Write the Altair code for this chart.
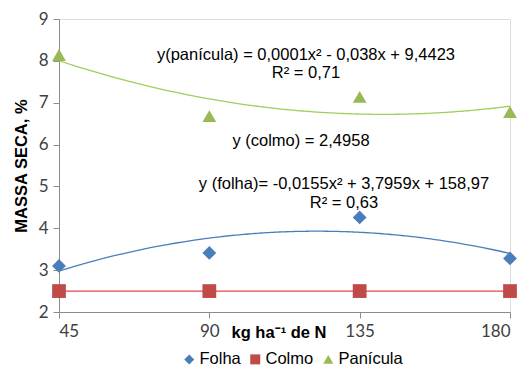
import altair as alt
import pandas as pd

doses = [45, 90, 135, 180]
folha = [3.10, 3.41, 4.26, 3.28]
colmo = [2.50, 2.50, 2.50, 2.50]
panicula = [8.14, 6.68, 7.14, 6.78]
series = ["Folha", "Colmo", "Panícula"]
colors = ["#4A7EBB", "#BE4B48", "#98B954"]
line_colors = ["#4A7EBB", "#E0484A", "#9CD05A"]
shapes = ["diamond", "square", "triangle-up"]
y_ticks = [2, 3, 4, 5, 6, 7, 8, 9]

rows = []
for name, vals in zip(series, [folha, colmo, panicula]):
    for d, v in zip(doses, vals):
        rows.append({"dose": d, "massa": v, "serie": name})
df = pd.DataFrame(rows)

ann_text = [
    "y(panícula) = 0,0001x² - 0,038x + 9,4423",
    "R² = 0,71",
    "y (colmo) = 2,4958",
    "y (folha)= -0,0155x² + 3,7959x + 158,97",
    "R² = 0,63",
]
ann_x = [247, 247, 242, 285, 285]
ann_y = [36, 54, 122, 165, 184]
ann = pd.DataFrame({"t": ann_text, "x": ann_x, "y": ann_y})

xscale = alt.Scale(domain=[45, 180], nice=False, zero=False)
yscale = alt.Scale(domain=[2, 9], nice=False, zero=False)

base = alt.Chart(df)

trend = base.transform_regression(
    "dose", "massa", groupby=["serie"], method="poly", order=2, extent=[45, 180]
).mark_line(strokeWidth=1.3, interpolate="monotone").encode(
    x=alt.X("dose:Q", scale=xscale),
    y=alt.Y("massa:Q", scale=yscale),
    color=alt.Color("serie:N", scale=alt.Scale(domain=series, range=line_colors), legend=None),
    detail="serie:N",
)

points = base.mark_point(filled=True, opacity=1, size=190).encode(
    x=alt.X(
        "dose:Q",
        scale=xscale,
        axis=alt.Axis(
            values=doses, title=None, grid=False, domainColor="#8C8C8C", tickColor="#8C8C8C",
            tickSize=6, labelFontSize=17, labelColor="#404040", labelFont="Lato", labelPadding=5,
        ),
    ),
    y=alt.Y(
        "massa:Q",
        scale=yscale,
        axis=alt.Axis(
            values=y_ticks, title="MASSA SECA, %", grid=False, domainColor="#8C8C8C",
            tickColor="#8C8C8C", tickSize=6, labelFontSize=17, labelColor="#404040",
            labelFont="Lato", labelPadding=5, titleFont="Liberation Sans", titleFontSize=16.5,
            titleFontWeight="bold", titleColor="#000000", titlePadding=9,
        ),
    ),
    color=alt.Color(
        "serie:N",
        scale=alt.Scale(domain=series, range=colors),
        legend=alt.Legend(
            title=None, orient="none", direction="horizontal", legendX=122, legendY=332,
            labelFont="Liberation Sans", labelFontSize=16.5, labelColor="#000000",
            symbolSize=100, columnPadding=6, labelOffset=2, symbolStrokeWidth=0,
        ),
    ),
    shape=alt.Shape("serie:N", scale=alt.Scale(domain=series, range=shapes), legend=None),
)

texts = alt.Chart(ann).mark_text(
    font="Liberation Sans", fontSize=16.5, color="#000000", align="center", baseline="middle"
).encode(x=alt.X("x:Q", scale=None), y=alt.Y("y:Q", scale=None), text="t:N")

xtitle = alt.Chart(pd.DataFrame({"t": ["kg ha⁻¹ de N"]})).mark_text(
    font="Liberation Sans", fontSize=16.5, fontWeight="bold", color="#000000",
    align="center", baseline="middle",
).encode(x=alt.value(220), y=alt.value(314), text="t:N")

chart = alt.layer(trend, points, texts, xtitle).resolve_scale(
    color="independent", shape="independent"
).properties(
    width=451, height=293,
    autosize=alt.AutoSizeParams(type="none"),
    padding={"left": 59, "top": 19, "right": 15, "bottom": 57},
).configure_view(stroke=None).configure(background="#FFFFFF")

chart.save("out.html", embed_options={"renderer": "svg", "actions": False})
